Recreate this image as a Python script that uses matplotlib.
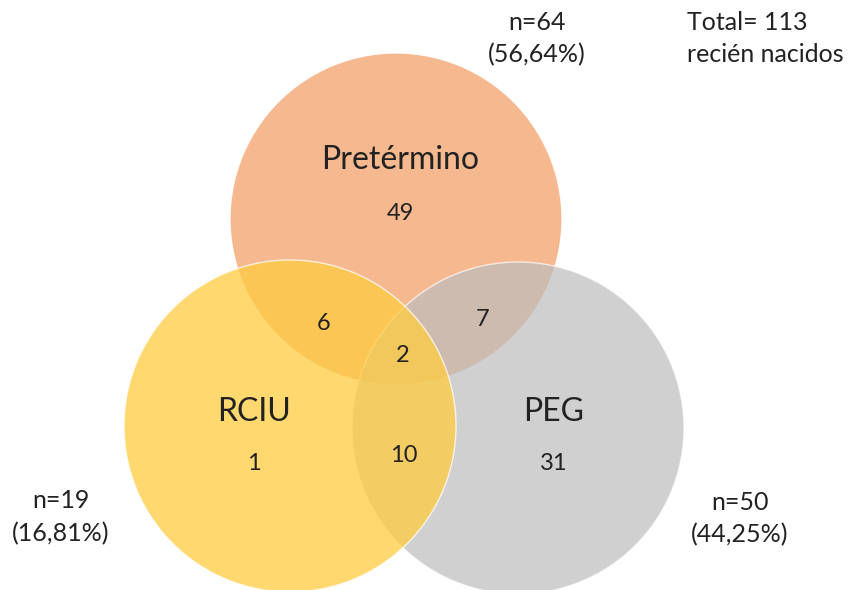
import matplotlib.pyplot as plt
from matplotlib.patches import Circle

# data
sets = ['Pretérmino', 'RCIU', 'PEG']
totals = [64, 19, 50]
percents = ['56,64%', '16,81%', '44,25%']
only_counts = [49, 1, 31]
pair_labels = ['Pret-RCIU', 'Pret-PEG', 'RCIU-PEG']
pair_counts = [6, 7, 10]
all_three = 2
total_n = 113

# layout (pixel coords)
centers = [(396, 219), (290, 426), (518, 428)]
radius = 166
colors = ['#F4B183', '#FFCC40', '#BDBDBD']
alphas = [0.9, 0.75, 0.7]
zorders = [1, 3, 2]
name_pos = [(400, 160), (254, 412), (554, 412)]
only_pos = [(400, 214), (254, 464), (554, 464)]
pair_pos = [(324, 323), (483, 320), (404, 455)]
tot_pos = [(537, 22), (61, 501), (740, 502)]
txt = '#222222'

plt.rcParams['font.family'] = ['Lato', 'DejaVu Sans']

fig = plt.figure(figsize=(8.56, 5.9), dpi=100)
ax = fig.add_axes([0, 0, 1, 1])
ax.set_xlim(0, 856)
ax.set_ylim(590, 0)
ax.axis('off')

for (cx, cy), c, a, z in zip(centers, colors, alphas, zorders):
    ax.add_patch(Circle((cx, cy), radius, facecolor=c, alpha=a,
                        edgecolor='white', linewidth=1.0, zorder=z))

for name, (x, y) in zip(sets, name_pos):
    ax.text(x, y, name, ha='center', va='center', fontsize=23, color=txt, zorder=5)
for n, (x, y) in zip(only_counts, only_pos):
    ax.text(x, y, str(n), ha='center', va='center', fontsize=17, color=txt, zorder=5)
for n, (x, y) in zip(pair_counts, pair_pos):
    ax.text(x, y, str(n), ha='center', va='center', fontsize=17, color=txt, zorder=5)
ax.text(403, 355, str(all_three), ha='center', va='center', fontsize=17, color=txt, zorder=5)

for n, p, (x, y) in zip(totals, percents, tot_pos):
    ax.text(x, y, 'n=%d' % n, ha='center', va='center', fontsize=18, color=txt)
    ax.text(x, y + 33, '(%s)' % p, ha='center', va='center', fontsize=18, color=txt)

ax.text(687, 22, 'Total= %d' % total_n, ha='left', va='center', fontsize=18, color=txt)
ax.text(687, 54, 'recién nacidos', ha='left', va='center', fontsize=18, color=txt)

fig.savefig('out.png', dpi=100)
